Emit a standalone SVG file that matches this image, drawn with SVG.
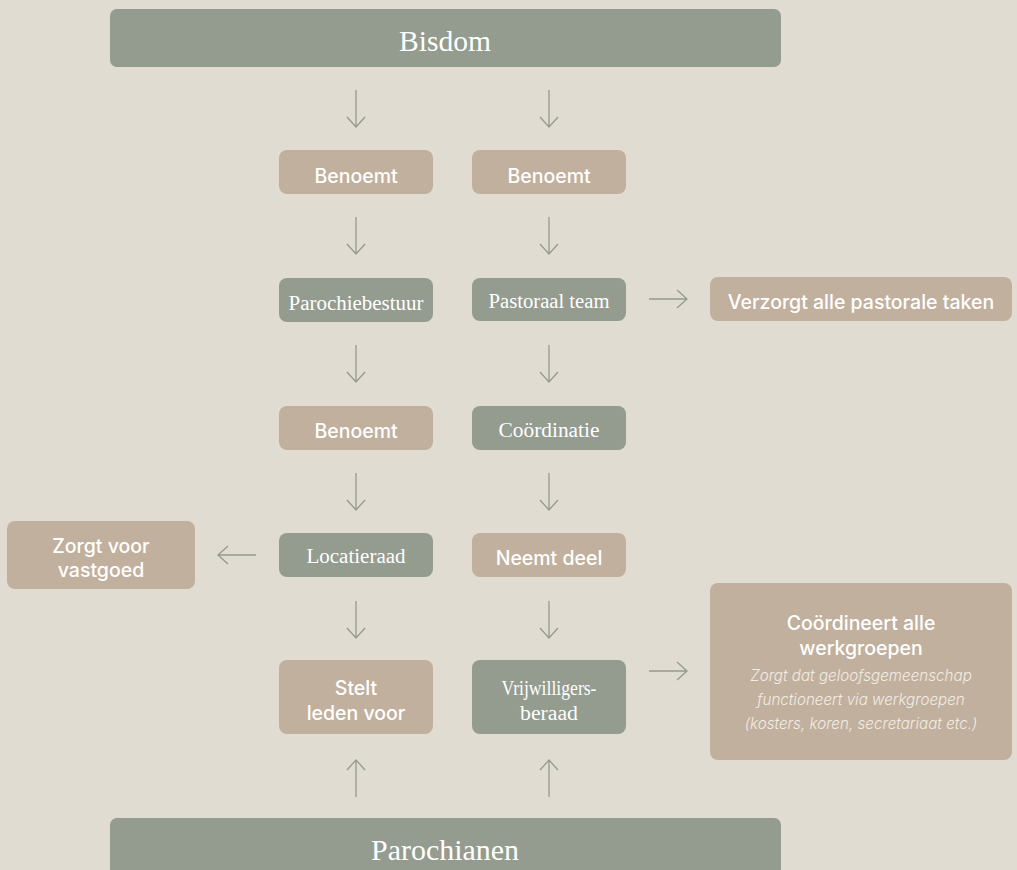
<svg xmlns="http://www.w3.org/2000/svg" width="1017" height="870" viewBox="0 0 1017 870">
<style>
.g{fill:#949B8F}
.t{fill:#C1B09D}
.serif{font-family:"Liberation Serif","DejaVu Serif",serif;fill:#FFFFFF;text-anchor:middle;font-size:20.5px}
.big{font-size:29px}
.sans{font-family:Inter,"Liberation Sans",sans-serif;font-weight:500;fill:#FFFFFF;text-anchor:middle;font-size:19.5px}
.it{font-family:Inter,"Liberation Sans",sans-serif;font-style:italic;font-weight:300;fill:#F1ECE4;text-anchor:middle;font-size:15.2px}
.c{fill:none;stroke:#949B8F;stroke-width:1.3}
</style>
<rect width="1017" height="870" fill="#E0DCD1"/>
<g id="connectors" class="c">
<path d="M356 90V127M347 117L356 127L365 117"/>
<path d="M549 90V127M540 117L549 127L558 117"/>
<path d="M356 217V254M347 244L356 254L365 244"/>
<path d="M549 217V254M540 244L549 254L558 244"/>
<path d="M356 345V382M347 372L356 382L365 372"/>
<path d="M549 345V382M540 372L549 382L558 372"/>
<path d="M356 473V510M347 500L356 510L365 500"/>
<path d="M549 473V510M540 500L549 510L558 500"/>
<path d="M356 601V638M347 628L356 638L365 628"/>
<path d="M549 601V638M540 628L549 638L558 628"/>
<path d="M356 797V760M347 770L356 760L365 770"/>
<path d="M549 797V760M540 770L549 760L558 770"/>
<path d="M649 299H687M677 290L687 299L677 308"/>
<path d="M649 671H687M677 662L687 671L677 680"/>
<path d="M256 555H218M228 546L218 555L228 564"/>
</g>
<g id="bisdom"><rect class="g" x="110" y="9" width="671" height="58" rx="7"/><text class="serif big" x="445" y="51" textLength="92" lengthAdjust="spacingAndGlyphs">Bisdom</text></g>
<g id="benoemt1"><rect class="t" x="279" y="150" width="154" height="44" rx="8"/><text class="sans" x="356" y="183">Benoemt</text></g>
<g id="benoemt2"><rect class="t" x="472" y="150" width="154" height="44" rx="8"/><text class="sans" x="549" y="183">Benoemt</text></g>
<g id="parochiebestuur"><rect class="g" x="279" y="278" width="154" height="44" rx="8"/><text class="serif" x="356" y="310" textLength="135" lengthAdjust="spacingAndGlyphs">Parochiebestuur</text></g>
<g id="pastoraalteam"><rect class="g" x="472" y="278" width="154" height="43" rx="8"/><text class="serif" x="549" y="308" textLength="121" lengthAdjust="spacingAndGlyphs">Pastoraal team</text></g>
<g id="verzorgt"><rect class="t" x="710" y="277" width="302" height="44" rx="8"/><text class="sans" x="861" y="309">Verzorgt alle pastorale taken</text></g>
<g id="benoemt3"><rect class="t" x="279" y="406" width="154" height="44" rx="8"/><text class="sans" x="356" y="438">Benoemt</text></g>
<g id="coordinatie"><rect class="g" x="472" y="406" width="154" height="44" rx="8"/><text class="serif" x="549" y="437" textLength="101" lengthAdjust="spacingAndGlyphs">Coördinatie</text></g>
<g id="vastgoed"><rect class="t" x="7" y="521" width="188" height="68" rx="8"/><text class="sans" x="101" y="553">Zorgt voor</text><text class="sans" x="101" y="577">vastgoed</text></g>
<g id="locatieraad"><rect class="g" x="279" y="533" width="154" height="44" rx="8"/><text class="serif" x="356" y="563" textLength="99" lengthAdjust="spacingAndGlyphs">Locatieraad</text></g>
<g id="neemtdeel"><rect class="t" x="472" y="533" width="154" height="44" rx="8"/><text class="sans" x="549" y="565">Neemt deel</text></g>
<g id="stelt"><rect class="t" x="279" y="660" width="154" height="74" rx="8"/><text class="sans" x="356" y="695">Stelt</text><text class="sans" x="356" y="720">leden voor</text></g>
<g id="vrijwilligers"><rect class="g" x="472" y="660" width="154" height="74" rx="8"/><text class="serif" x="549" y="695" textLength="95" lengthAdjust="spacingAndGlyphs">Vrijwilligers-</text><text class="serif" x="549" y="720" textLength="58" lengthAdjust="spacingAndGlyphs">beraad</text></g>
<g id="coordineert"><rect class="t" x="710" y="583" width="302" height="177" rx="8"/><text class="sans" x="861" y="630">Coördineert alle</text><text class="sans" x="861" y="655">werkgroepen</text><text class="it" x="861" y="681">Zorgt dat geloofsgemeenschap</text><text class="it" x="861" y="705">functioneert via werkgroepen</text><text class="it" x="861" y="729">(kosters, koren, secretariaat etc.)</text></g>
<g id="parochianen"><rect class="g" x="110" y="818" width="671" height="60" rx="7"/><text class="serif big" x="445" y="860" textLength="148" lengthAdjust="spacingAndGlyphs">Parochianen</text></g>
</svg>
